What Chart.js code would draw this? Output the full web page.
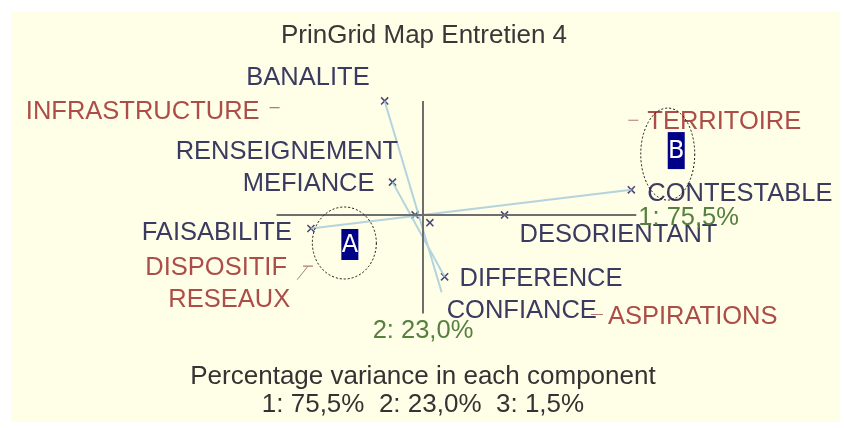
<!DOCTYPE html>
<html>
<head>
<meta charset="utf-8">
<script src="https://cdn.jsdelivr.net/npm/chart.js@4.4.1/dist/chart.umd.min.js"></script>
<style>
  html, body { margin: 0; padding: 0; background: #ffffff; }
  canvas { display: block; }
</style>
</head>
<body>
<canvas id="map" width="844" height="428"></canvas>
<script>
// construct poles (crosses), component 1 / component 2
const poleNames = ["BANALITE", "MEFIANCE", "RENSEIGNEMENT", "", "DESORIENTANT", "CONTESTABLE", "FAISABILITE", "DIFFERENCE"];
const poleX = [-0.195, -0.155, -0.04, 0.035, 0.415, 1.06, -0.57, 0.11];
const poleY = [0.59, 0.17, 0.0, -0.04, 0.0, 0.13, -0.07, -0.32];

// construct lines (pole to opposite pole)
const lineFromX = [-0.195, -0.155, -0.57, -0.04];
const lineFromY = [0.59, 0.17, -0.07, 0.0];
const lineToX = [0.095, 0.11, 1.06, 0.415];
const lineToY = [-0.40, -0.32, 0.13, 0.0];

// opposite pole with no cross
const endNames = ["CONFIANCE"];
const endX = [0.095];
const endY = [-0.40];

// elements
const elementNames = ["INFRASTRUCTURE", "TERRITOIRE", "DISPOSITIF", "RESEAUX", "ASPIRATIONS"];
const elementX = [-0.755, 1.07, -0.585, -0.64, 0.885];
const elementY = [0.555, 0.49, -0.265, -0.335, -0.515];

// component axes
const axisNames = ["1: 75,5%", "2: 23,0%"];
const axis1 = [-0.745, 1.085];
const axis2 = [0.59, -0.51];
const varianceText = ["Percentage variance in each component", "1: 75,5%  2: 23,0%  3: 1,5%"];

// groups marked on the map
const groupNames = ["A", "B"];
const groupX = [-0.4, 1.245];
const groupY = [-0.145, 0.315];

// label placement (pixels from the anchor)
const poleLabelPos = {
  BANALITE: [-15, -25, "right"],
  MEFIANCE: [-18, 0, "right"],
  RENSEIGNEMENT: [-17, -65, "right"],
  DESORIENTANT: [15, 18, "left"],
  CONTESTABLE: [16, 2, "left"],
  FAISABILITE: [-19, 2, "right"],
  DIFFERENCE: [15, 0, "left"],
  CONFIANCE: [5, 17, "left"]
};
const elementLabelPos = {
  INFRASTRUCTURE: [-15, 2, "right"],
  TERRITOIRE: [14, 0, "left"],
  DISPOSITIF: [-21, 0, "right"],
  RESEAUX: [-7, 18, "right"],
  ASPIRATIONS: [11, 0, "left"]
};

const FONT = "'Liberation Sans', Arial, sans-serif";
const BLUE = "#3b3b62";
const RED = "#ad4d4a";
const GREEN = "#55803f";
const LIFT = 2; // canvas 'middle' sits a little high for capitals

function pts(xs, ys) {
  return xs.map((x, i) => ({ x: x, y: ys[i] }));
}

const segments = [];
lineFromX.forEach((x, i) => {
  segments.push({ x: x, y: lineFromY[i] });
  segments.push({ x: lineToX[i], y: lineToY[i] });
  segments.push({ x: null, y: null });
});

const decor = {
  id: "decor",
  beforeDraw(chart) {
    const c = chart.ctx;
    c.save();
    c.fillStyle = "#ffffff";
    c.fillRect(0, 0, chart.width, chart.height);
    c.fillStyle = "#fffee6";
    c.fillRect(11, 12, 829, 410);
    c.restore();
  },
  afterDatasetsDraw(chart) {
    const c = chart.ctx;
    const sx = chart.scales.x, sy = chart.scales.y;
    const px = v => sx.getPixelForValue(v);
    const py = v => sy.getPixelForValue(v);
    c.save();
    c.textBaseline = "middle";

    // title
    c.font = "26px " + FONT;
    c.fillStyle = "#383838";
    c.textAlign = "center";
    c.fillText("PrinGrid Map Entretien 4", px(0) + 1, 34 + LIFT);

    // pole labels
    c.font = "25.5px " + FONT;
    c.fillStyle = BLUE;
    poleNames.forEach((n, i) => {
      if (!n) return;
      const p = poleLabelPos[n];
      c.textAlign = p[2];
      c.fillText(n, px(poleX[i]) + p[0], py(poleY[i]) + p[1] + LIFT);
    });
    endNames.forEach((n, i) => {
      const p = poleLabelPos[n];
      c.textAlign = p[2];
      c.fillText(n, px(endX[i]) + p[0], py(endY[i]) + p[1] + LIFT);
    });

    // element labels
    c.fillStyle = RED;
    elementNames.forEach((n, i) => {
      const p = elementLabelPos[n];
      c.textAlign = p[2];
      c.fillText(n, px(elementX[i]) + p[0], py(elementY[i]) + p[1] + LIFT);
    });

    // axis labels
    c.fillStyle = GREEN;
    c.textAlign = "left";
    c.fillText(axisNames[0], px(axis1[1]) + 2, py(0) + 1 + LIFT);
    c.textAlign = "center";
    c.fillText(axisNames[1], px(0), py(axis2[1]) + 15 + LIFT);

    // variance footer
    c.font = "26px " + FONT;
    c.fillStyle = "#333333";
    c.fillText(varianceText[0], px(0), 375 + LIFT);
    c.fillText(varianceText[1], px(0), 403 + LIFT);

    // group ellipses with letter boxes
    const radii = [[32, 36], [27, 46]];
    const boxes = [[-3, -14, 17, 31], [0, -22, 17, 37]];
    groupNames.forEach((g, i) => {
      const cx = px(groupX[i]), cy = py(groupY[i]);
      c.beginPath();
      c.setLineDash([2, 2]);
      c.lineWidth = 1;
      c.strokeStyle = "#111111";
      c.ellipse(cx, cy, radii[i][0], radii[i][1], 0, 0, Math.PI * 2);
      c.stroke();
      c.setLineDash([]);
      const b = boxes[i];
      c.fillStyle = "#000088";
      c.fillRect(cx + b[0], cy + b[1], b[2], b[3]);
      c.fillStyle = "#ffffff";
      c.font = "24px 'DejaVu Sans', sans-serif";
      c.textAlign = "center";
      c.fillText(g, cx + b[0] + b[2] / 2, cy + b[1] + b[3] / 2 + 1);
    });
    c.restore();
  }
};

new Chart(document.getElementById("map"), {
  type: "scatter",
  data: {
    datasets: [
      {
        label: "axis 1",
        data: pts(axis1, [0, 0]),
        showLine: true,
        borderColor: "#6e6e6e",
        borderWidth: 2,
        pointRadius: 0
      },
      {
        label: "axis 2",
        data: pts([0, 0], axis2),
        showLine: true,
        borderColor: "#6e6e6e",
        borderWidth: 2,
        pointRadius: 0
      },
      {
        label: "constructs",
        data: segments,
        showLine: true,
        spanGaps: false,
        borderColor: "rgba(160,200,220,0.8)",
        borderWidth: 2,
        pointRadius: 0
      },
      {
        label: "link",
        data: pts([elementX[2], elementX[3]], [elementY[2], elementY[3]]),
        showLine: true,
        borderColor: "#a08878",
        borderWidth: 1,
        pointRadius: 0
      },
      {
        label: "poles",
        data: pts(poleX, poleY),
        pointStyle: "crossRot",
        pointRadius: 5,
        borderColor: "#4a4a78",
        borderWidth: 1.6
      },
      {
        label: "elements",
        data: pts(elementX, elementY),
        pointStyle: "line",
        pointRadius: [5, 5, 5, 0, 6],
        borderColor: "#b07a70",
        borderWidth: 1.2
      }
    ]
  },
  options: {
    responsive: false,
    animation: false,
    layout: { padding: 0 },
    plugins: { legend: { display: false }, tooltip: { enabled: false } },
    scales: {
      x: { type: "linear", display: false, min: -2.115, max: 2.105 },
      y: { type: "linear", display: false, min: -1.065, max: 1.075 }
    }
  },
  plugins: [decor]
});
</script>
</body>
</html>
